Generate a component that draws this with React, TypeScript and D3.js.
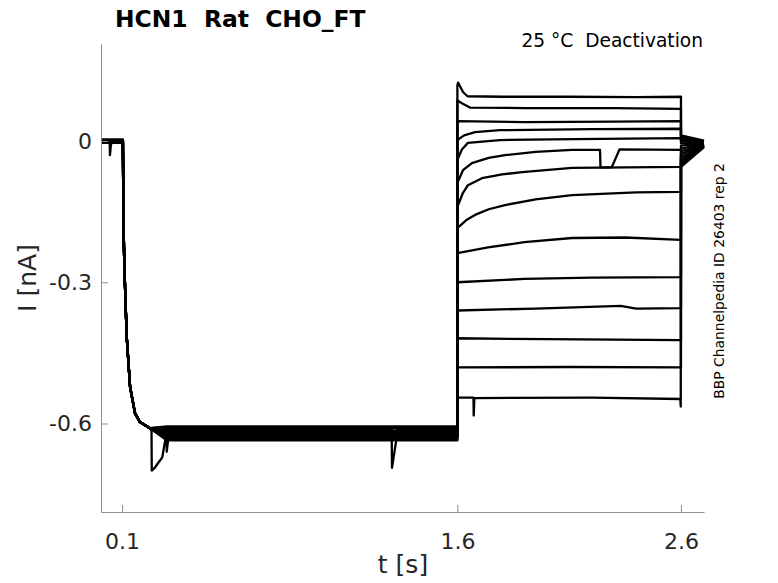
import React from 'react';
import * as d3 from 'd3';

// holding segment (shared by all sweeps)
const preLevels = [0.003, 0.001, -0.002, 0.002, 0.0, -0.003, 0.001, -0.001, 0.003, -0.002, 0.0, 0.002, -0.004, 0.001];
const dropTimes = [0.104, 0.106, 0.110, 0.121, 0.136, 0.158, 0.180, 0.225];
const dropCurrents = [0, -0.15, -0.259, -0.416, -0.522, -0.578, -0.597, -0.61];
const holdLevels = [-0.610, -0.615, -0.618, -0.622, -0.626, -0.606, -0.629, -0.616, -0.633, -0.612, -0.636, -0.620, -0.625, -0.608];

// test pulses from 1.6 s to 2.6 s
const relaxTimes = [
	[1.6, 1.603, 1.61, 1.625, 1.645, 1.8, 2.1, 2.4, 2.6],
	[1.6, 1.62, 1.656, 1.9, 2.3, 2.6],
	[1.6, 1.9, 2.3, 2.6],
	[1.6, 1.63, 1.679, 1.79, 2.2, 2.6],
	[1.6, 1.62, 1.647, 1.79, 2.126, 2.6],
	[1.6, 1.625, 1.665, 1.74, 1.813, 1.95, 2.113, 2.238, 2.24, 2.29, 2.325, 2.6],
	[1.6, 1.625, 1.647, 1.71, 1.8, 1.889, 2.113, 2.6],
	[1.6, 1.64, 1.679, 1.74, 1.813, 1.95, 2.113, 2.4, 2.6],
	[1.6, 1.737, 1.9, 2.113, 2.35, 2.6],
	[1.6, 1.9, 2.2, 2.6],
	[1.6, 1.95, 2.33, 2.4, 2.6],
	[1.6, 2.0, 2.6],
	[1.6, 2.1, 2.6],
	[1.6, 1.672, 1.673, 1.676, 2.2, 2.597, 2.599],
];
const relaxCurrents = [
	[0.118, 0.124, 0.118, 0.104, 0.095, 0.094, 0.094, 0.093, 0.094],
	[0.086, 0.08, 0.071, 0.070, 0.070, 0.068],
	[0.042, 0.040, 0.041, 0.042],
	[0.002, 0.012, 0.019, 0.023, 0.025, 0.026],
	[-0.040, -0.018, -0.004, 0.002, 0.004, 0.006],
	[-0.089, -0.062, -0.047, -0.036, -0.030, -0.023, -0.019, -0.019, -0.056, -0.056, -0.018, -0.019],
	[-0.140, -0.110, -0.094, -0.079, -0.071, -0.066, -0.057, -0.055],
	[-0.185, -0.168, -0.157, -0.145, -0.136, -0.124, -0.115, -0.109, -0.108],
	[-0.238, -0.226, -0.215, -0.206, -0.205, -0.210],
	[-0.300, -0.293, -0.290, -0.289],
	[-0.360, -0.356, -0.350, -0.356, -0.355],
	[-0.419, -0.421, -0.423],
	[-0.481, -0.480, -0.481],
	[-0.545, -0.545, -0.583, -0.546, -0.545, -0.548, -0.564],
];

// tail currents after the return to holding
const tailStart = [0.012, 0.008, 0.004, 0.0, -0.005, -0.010, -0.016, -0.022, -0.028, -0.034, -0.040, -0.045, -0.050, -0.055];
const tailEnd = [0.001, -0.001, -0.002, -0.003, -0.004, -0.005, -0.006, -0.007, -0.008, -0.009, -0.010, -0.011, -0.012, -0.013];

// glitches seen on single sweeps
const glitchTrace = [5, 2, 9];
const glitchTimes = [
	[0.045, 0.046, 0.050, 0.053],
	[0.232, 0.233, 0.245, 0.26, 0.28, 0.30, 0.305, 0.31],
	[1.306, 1.3075, 1.329, 1.332],
];
const glitchCurrents = [
	[-0.003, -0.030, -0.010, -0.003],
	[-0.615, -0.700, -0.695, -0.685, -0.672, -0.660, -0.640, -0.615],
	[-0.613, -0.694, -0.628, -0.613],
];

const xTicks = [0.1, 1.6, 2.6];
const yTicks = [-0.6, -0.3, 0];

class App extends React.Component {
	ref = React.createRef<HTMLDivElement>();

	componentDidMount() {
		this.drawChart();
	}

	drawChart() {
		const w = 778;
		const h = 583;
		const font = 'DejaVu Sans';

		const x = d3.scaleLinear().domain([0.006, 2.703]).range([101, 704]);
		const y = d3.scaleLinear().domain([-0.788, 0.206]).range([512, 44]);

		d3.select(this.ref.current).selectAll('*').remove();
		const svg = d3
			.select(this.ref.current)
			.append('svg')
			.attr('width', w)
			.attr('height', h)
			.style('position', 'absolute')
			.style('left', 0)
			.style('top', 0)
			.style('background', '#fff');

		const traces = holdLevels.map((hold, i) => {
			let pts: [number, number][] = [[0.006, preLevels[i]]];
			dropTimes.forEach((t, k) => pts.push([t, k === 0 ? preLevels[i] : dropCurrents[k]]));
			pts.push([0.3, hold]);
			pts.push([1.6, hold]);
			relaxTimes[i].forEach((t, k) => pts.push([t, relaxCurrents[i][k]]));
			pts.push([2.6, tailStart[i]]);
			pts.push([2.703, tailEnd[i]]);
			glitchTrace.forEach((g, j) => {
				if (g === i) glitchTimes[j].forEach((t, k) => pts.push([t, glitchCurrents[j][k]]));
			});
			pts = pts.slice().sort((a, b) => a[0] - b[0]);
			return pts;
		});

		const line = d3
			.line<[number, number]>()
			.x(d => x(d[0]))
			.y(d => y(d[1]));

		svg
			.append('g')
			.selectAll('path')
			.data(traces)
			.enter()
			.append('path')
			.attr('d', d => line(d))
			.attr('fill', 'none')
			.attr('stroke', '#000')
			.attr('stroke-width', 2.3)
			.attr('stroke-linejoin', 'round');

		const xAxis = svg
			.append('g')
			.attr('transform', 'translate(0,512)')
			.call(d3.axisBottom(x).tickValues(xTicks).tickSizeInner(-7).tickSizeOuter(0).tickPadding(21).tickFormat(d => String(d)));
		const yAxis = svg
			.append('g')
			.attr('transform', 'translate(101,0)')
			.call(d3.axisLeft(y).tickValues(yTicks).tickSizeInner(-7).tickSizeOuter(0).tickPadding(9).tickFormat(d => String(d)));

		[xAxis, yAxis].forEach(a => {
			a.select('.domain').attr('stroke', '#8c8c8c');
			a.selectAll('.tick line').attr('stroke', '#8c8c8c');
			a.selectAll('.tick text').attr('fill', '#262626').attr('font-size', 22).attr('font-family', font);
		});

		svg
			.append('text')
			.text('t [s]')
			.attr('x', 403)
			.attr('y', 573)
			.attr('text-anchor', 'middle')
			.attr('font-family', font)
			.attr('font-size', 25)
			.attr('fill', '#262626');

		svg
			.append('text')
			.text('I [nA]')
			.attr('transform', 'translate(36,278) rotate(-90)')
			.attr('text-anchor', 'middle')
			.attr('font-family', font)
			.attr('font-size', 25)
			.attr('fill', '#262626');

		svg
			.append('text')
			.text('HCN1  Rat  CHO_FT')
			.attr('x', 115)
			.attr('y', 27)
			.attr('font-family', font)
			.attr('font-weight', 'bold')
			.attr('font-size', 23.4)
			.attr('fill', '#000')
			.style('white-space', 'pre');

		svg
			.append('text')
			.text('25 °C  Deactivation')
			.attr('x', 703)
			.attr('y', 47)
			.attr('text-anchor', 'end')
			.attr('font-family', font)
			.attr('font-size', 18.6)
			.attr('fill', '#000')
			.style('white-space', 'pre');

		svg
			.append('text')
			.text('BBP Channelpedia ID 26403 rep 2')
			.attr('transform', 'translate(724,281) rotate(-90)')
			.attr('text-anchor', 'middle')
			.attr('font-family', font)
			.attr('font-size', 13.9)
			.attr('fill', '#000');
	}

	render() {
		return <div ref={this.ref} />;
	}
}

export default App;
